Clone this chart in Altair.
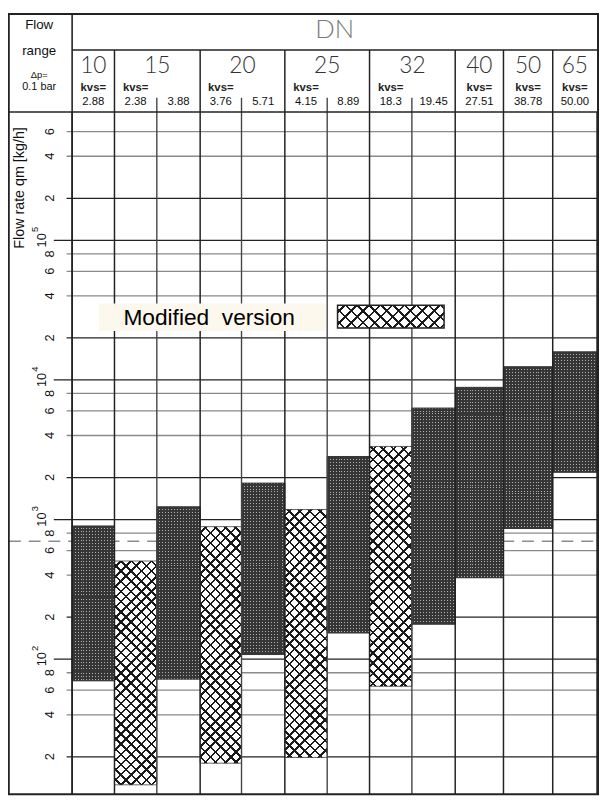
import math
import altair as alt
import pandas as pd

# ---------------- data ----------------
dn = ["10", "15", "15", "20", "20", "25", "25", "32", "32", "40", "50", "65"]
kvs = ["2.88", "2.38", "3.88", "3.76", "5.71", "4.15", "8.89", "18.3", "19.45", "27.51", "38.78", "50.00"]
version = ["original", "modified", "original", "modified", "original", "modified",
           "original", "modified", "original", "original", "original", "original"]
q_max = [900, 505, 1235, 890, 1825, 1180, 2830, 3340, 6290, 8850, 12440, 15900]
q_min = [70, 12.6, 72, 18, 108, 19.8, 154, 64, 178, 383, 863, 2180]
grid_values = [20, 40, 60, 80, 100, 200, 400, 600, 800, 1000, 2000, 4000, 6000, 8000,
               10000, 20000, 40000, 60000, 80000, 100000, 200000, 400000, 600000]
dash_value = [700]
legend_label = "Modified\u00a0 version"
y_title = "Flow rate qm [kg/h]"

# ---------------- layout / style ----------------
COL_W = [43, 43, 44, 42, 44, 43, 43, 43, 44, 49, 50, 45]
X_TOTAL = sum(COL_W)
W, H = 532, 692
PAD = {"left": 65, "top": 100, "right": 2, "bottom": 4}
Y_DOMAIN = [10.7, 8.3e5]
PX_PER_DEC = H / (math.log10(Y_DOMAIN[1]) - math.log10(Y_DOMAIN[0]))
PX_PER_UNIT = W / X_TOTAL
DARK = "#222222"
GRAY = "#8a8a8a"
SANS = "Liberation Sans, Arial, sans-serif"
NARROW = "Liberation Sans Narrow, Liberation Sans, sans-serif"
LIGHT = "Lato, Open Sans, sans-serif"

edges = [0]
for w in COL_W:
    edges.append(edges[-1] + w)

xs = alt.Scale(domain=[0, X_TOTAL], nice=False, zero=False)
ys = alt.Scale(type="log", domain=Y_DOMAIN, nice=False)

bars = pd.DataFrame({"i": list(range(len(dn))), "dn": dn, "kvs": kvs, "version": version,
                     "qmin": q_min, "qmax": q_max,
                     "x0": edges[:-1], "x1": edges[1:]})
bars["xc"] = (bars["x0"] + bars["x1"]) / 2

grid = pd.DataFrame({"v": grid_values})
grid["e"] = [int(math.floor(math.log10(v) + 1e-9)) for v in grid_values]
grid["m"] = [int(round(v / 10 ** e)) for v, e in zip(grid_values, grid["e"])]
grid["lab"] = [str(m) for m in grid["m"]]
grid["exp"] = [str(e) for e in grid["e"]]

groups = []
for i, d in enumerate(dn):
    if not groups or groups[-1]["dn"] != d:
        groups.append({"dn": d, "start": edges[i], "end": edges[i + 1],
                       "first_c": (edges[i] + edges[i + 1]) / 2})
    else:
        groups[-1]["end"] = edges[i + 1]
grp = pd.DataFrame(groups)
grp["c"] = (grp["start"] + grp["end"]) / 2
group_edges = sorted(set(grp["start"]).union(set(grp["end"])))
sub_edges = [e for e in edges if e not in group_edges]
ge_df = pd.DataFrame({"e": group_edges})
ge_inner = pd.DataFrame({"e": [e for e in group_edges if 0 < e < X_TOTAL]})
se_df = pd.DataFrame({"e": sub_edges})
one = pd.DataFrame({"a": [0]})

CLEAR = "rgba(255,255,255,0)"


def stripe_stops(length, period, lw, color, start):
    stops = [{"offset": 0, "color": CLEAR}]
    pos = start
    while pos < length:
        a = round(max(pos, 0) / length, 5)
        b = round(min((pos + lw) / length, 1), 5)
        stops += [{"offset": a, "color": CLEAR}, {"offset": a, "color": color},
                  {"offset": b, "color": color}, {"offset": b, "color": CLEAR}]
        pos += period
    stops.append({"offset": 1, "color": CLEAR})
    return stops


def hatch_fill(w, h, direction, period=7.3, lw=1.8, color="#1a1a1a"):
    length = (w + h) / math.sqrt(2)
    k = (w + h) / (w * w + h * h)
    if direction == 1:
        x1, y1, x2, y2 = 0, 0, k * w, k * h
    else:
        x1, y1, x2, y2 = 0, 1, k * w, 1 - k * h
    return {"gradient": "linear", "x1": x1, "y1": y1, "x2": x2, "y2": y2,
            "stops": stripe_stops(length, period, lw, color, period / 2)}


def dot_fill(w, h, axis, period=3.0, lw=2.0, color="#363636"):
    length = w if axis == "x" else h
    if axis == "x":
        g = {"x1": 0, "y1": 0, "x2": 1, "y2": 0}
    else:
        g = {"x1": 0, "y1": 0, "x2": 0, "y2": 1}
    g.update({"gradient": "linear", "stops": stripe_stops(length, period, lw, color, 0.5)})
    return g


layers = []

# horizontal grid lines
g_minor = alt.Chart(grid).transform_filter("datum.m > 2").mark_rule(color=GRAY, strokeWidth=1.3).encode(
    y=alt.Y("v:Q", scale=ys, axis=None), x=alt.value(-5.6), x2=alt.value(W))
g_two = alt.Chart(grid).transform_filter("datum.m == 2").mark_rule(color=DARK, strokeWidth=1.3).encode(
    y=alt.Y("v:Q", scale=ys, axis=None), x=alt.value(-5.6), x2=alt.value(W))
g_dec = alt.Chart(grid).transform_filter("datum.m == 1").mark_rule(color=DARK, strokeWidth=1.3).encode(
    y=alt.Y("v:Q", scale=ys, axis=None), x=alt.value(-18.6), x2=alt.value(W))
layers += [g_minor, g_two, g_dec]

# dashed reference line
layers.append(alt.Chart(pd.DataFrame({"v": dash_value})).mark_rule(
    color="#8c8c8c", strokeWidth=1.6, strokeDash=[12, 8]).encode(
    y=alt.Y("v:Q", scale=ys, axis=None), x=alt.value(-64), x2=alt.value(W)))

# bars (base)
layers.append(alt.Chart(bars).mark_rect(strokeWidth=1).encode(
    x=alt.X("x0:Q", scale=xs, axis=None), x2="x1:Q",
    y=alt.Y("qmax:Q", scale=ys, axis=None), y2="qmin:Q",
    color=alt.Color("version:N", scale=alt.Scale(domain=["original", "modified"],
                                                   range=["#b0b0b0", "#ffffff"]), legend=None),
    stroke=alt.Stroke("version:N", scale=alt.Scale(domain=["original", "modified"],
                                                     range=["#333333", "#666666"]), legend=None)))

# textures
for i, v in enumerate(version):
    w = COL_W[i] * PX_PER_UNIT
    h = (math.log10(q_max[i]) - math.log10(q_min[i])) * PX_PER_DEC
    if v == "modified":
        fills = [hatch_fill(w, h, 1), hatch_fill(w, h, -1)]
    else:
        fills = [dot_fill(w, h, "x"), dot_fill(w, h, "y")]
    for f in fills:
        layers.append(alt.Chart(bars).transform_filter(f"datum.i == {i}").mark_rect(
            fill=f, strokeWidth=0).encode(
            x=alt.X("x0:Q", scale=xs, axis=None), x2="x1:Q",
            y=alt.Y("qmax:Q", scale=ys, axis=None), y2="qmin:Q"))

# vertical column lines
layers.append(alt.Chart(se_df).mark_rule(color="#444444", strokeWidth=1.4).encode(
    x=alt.X("e:Q", scale=xs, axis=None), y=alt.value(-14.3), y2=alt.value(H)))
layers.append(alt.Chart(ge_df).mark_rule(color=DARK, strokeWidth=1.5).encode(
    x=alt.X("e:Q", scale=xs, axis=None), y=alt.value(0), y2=alt.value(H)))
layers.append(alt.Chart(ge_inner).mark_rule(color=DARK, strokeWidth=1.5).encode(
    x=alt.X("e:Q", scale=xs, axis=None), y=alt.value(-62.9), y2=alt.value(0)))


def hrule(y, x0, x1, sw=1.6, color=DARK):
    return alt.Chart(one).mark_rule(color=color, strokeWidth=sw).encode(
        x=alt.value(x0), x2=alt.value(x1), y=alt.value(y))


def vrule(x, y0, y1, sw=1.6, color=DARK):
    return alt.Chart(one).mark_rule(color=color, strokeWidth=sw).encode(
        x=alt.value(x), y=alt.value(y0), y2=alt.value(y1))


layers += [
    hrule(-99.2, -65, W + 2, 2),
    hrule(-62.9, 0, W + 2, 1.5),
    hrule(0, -65, W + 2, 1.6),
    hrule(H - 0.5, -65, W + 2, 1.8),
    vrule(-64.2, -100, H, 2),
    vrule(0, -100, H, 1.6),
    vrule(W + 1, -100, H, 2),
]

# header text
layers.append(alt.Chart(one).mark_text(font=LIGHT, fontWeight=300, fontSize=26, color="#7a7a7a").encode(
    x=alt.value(W / 2), y=alt.value(-83), text=alt.value("DN")))
layers.append(alt.Chart(grp).mark_text(font=LIGHT, fontWeight=300, fontSize=23, color="#333333").encode(
    x=alt.X("c:Q", scale=xs, axis=None), y=alt.value(-46.5), text="dn:N"))
layers.append(alt.Chart(grp).mark_text(font=NARROW, fontSize=11.5, fontWeight="bold", color="#222222").encode(
    x=alt.X("first_c:Q", scale=xs, axis=None), y=alt.value(-24), text=alt.value("kvs=")))
layers.append(alt.Chart(bars).mark_text(font=NARROW, fontSize=11.5, color="#111111").encode(
    x=alt.X("xc:Q", scale=xs, axis=None), y=alt.value(-10), text="kvs:N"))

for txt, y, fs in [("Flow", -88, 13.5), ("range", -62, 13.5), ("\u0394p=", -37, 9.5), ("0.1 bar", -25, 11)]:
    layers.append(alt.Chart(one).mark_text(font=SANS, fontSize=fs, color="#111111").encode(
        x=alt.value(-33.4), y=alt.value(y), text=alt.value(txt)))

# y tick labels
layers.append(alt.Chart(grid).transform_filter("datum.m > 1").mark_text(
    font=SANS, fontSize=13, angle=270, color="#111111").encode(
    x=alt.value(-22.3), y=alt.Y("v:Q", scale=ys, axis=None), text="lab:N"))
layers.append(alt.Chart(grid).transform_filter("datum.m == 1").mark_text(
    font=SANS, fontSize=13, angle=270, color="#111111").encode(
    x=alt.value(-30.6), y=alt.Y("v:Q", scale=ys, axis=None), text=alt.value("10")))
layers.append(alt.Chart(grid).transform_filter("datum.m == 1").mark_text(
    font=SANS, fontSize=9.5, angle=270, color="#111111", dx=11, dy=-7).encode(
    x=alt.value(-30.6), y=alt.Y("v:Q", scale=ys, axis=None), text="exp:N"))

layers.append(alt.Chart(one).mark_text(font=SANS, fontSize=14.5, angle=270, color="#111111").encode(
    x=alt.value(-52.9), y=alt.value(77), text=alt.value(y_title)))

# legend
layers.append(alt.Chart(one).mark_rect(color="#fdf8ee").encode(
    x=alt.value(27), x2=alt.value(257), y=alt.value(194), y2=alt.value(222)))
layers.append(alt.Chart(one).mark_text(font=SANS, fontSize=23, align="left", color="#000000").encode(
    x=alt.value(52), y=alt.value(209), text=alt.value(legend_label)))
SW_X0, SW_X1, SW_Y0, SW_Y1 = 269, 377, 196, 219
layers.append(alt.Chart(one).mark_rect(fill="#ffffff", strokeWidth=0).encode(
    x=alt.value(SW_X0), x2=alt.value(SW_X1), y=alt.value(SW_Y0), y2=alt.value(SW_Y1)))
for d in (1, -1):
    layers.append(alt.Chart(one).mark_rect(
        fill=hatch_fill(SW_X1 - SW_X0, SW_Y1 - SW_Y0, d, period=8.5), strokeWidth=0).encode(
        x=alt.value(SW_X0), x2=alt.value(SW_X1), y=alt.value(SW_Y0), y2=alt.value(SW_Y1)))
layers.append(alt.Chart(one).mark_rect(fillOpacity=0, stroke="#222222", strokeWidth=1.5).encode(
    x=alt.value(SW_X0), x2=alt.value(SW_X1), y=alt.value(SW_Y0), y2=alt.value(SW_Y1)))

chart = alt.layer(*layers).properties(
    width=W, height=H, padding=PAD,
    autosize=alt.AutoSizeParams(type="none"),
    background="white",
).configure_view(stroke=None)

chart.save("out.html", embed_options={"renderer": "svg", "actions": False})
